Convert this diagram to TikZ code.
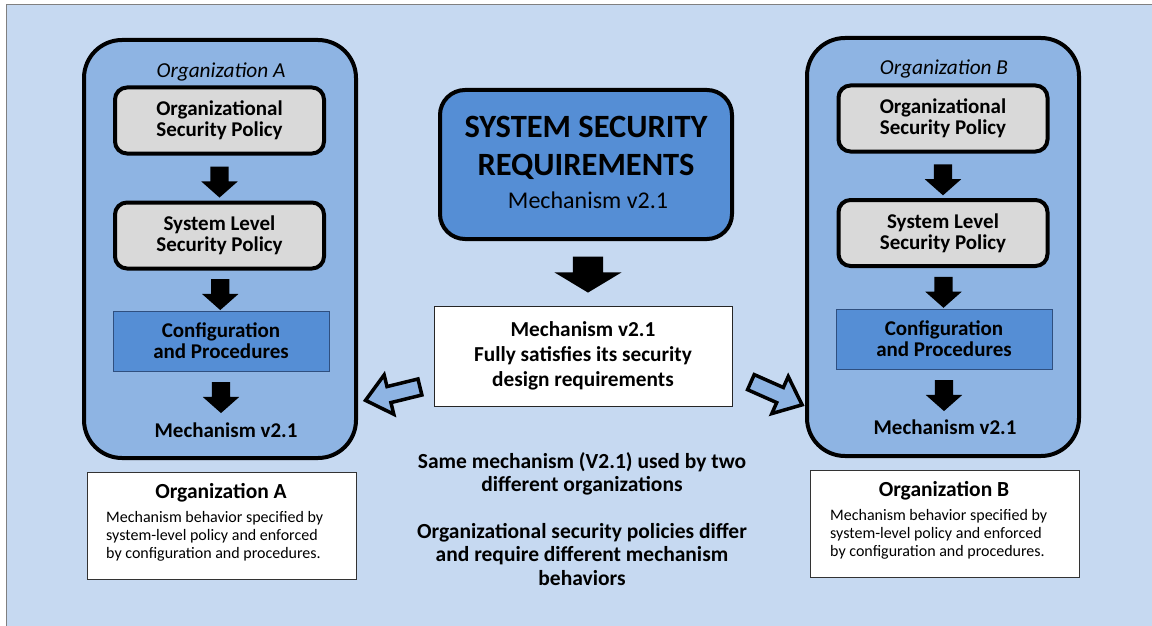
\documentclass[tikz,border=0pt]{standalone}
\usepackage{fontspec}
\setmainfont{Carlito}
\usetikzlibrary{shapes.arrows,calc}

\definecolor{panelblue}{HTML}{C6D9F1}
\definecolor{panelrule}{HTML}{808080}
\definecolor{orgfill}{HTML}{8EB4E3}
\definecolor{stepblue}{HTML}{558ED5}
\definecolor{policygray}{HTML}{D9D9D9}
\definecolor{cfgrule}{HTML}{2F4F7F}

\begin{document}
\begin{tikzpicture}[x=1pt,y=-1pt,
  orgframe/.style={draw=black, line width=4pt, fill=orgfill, rounded corners=38pt,
    minimum width=272pt, minimum height=418pt, inner sep=0pt},
  policybox/.style={draw=black, line width=4pt, fill=policygray, rounded corners=12pt,
    minimum width=209pt, minimum height=66pt, inner sep=0pt, align=center,
    font=\bfseries\fontsize{21}{21}\selectfont},
  cfgbox/.style={draw=cfgrule, line width=1pt, fill=stepblue,
    minimum width=216pt, minimum height=60pt, inner sep=0pt, align=center,
    font=\bfseries\fontsize{21}{21}\selectfont},
  orgtitle/.style={font=\itshape\fontsize{21.3}{22}\selectfont, inner sep=0pt},
  mechlabel/.style={font=\bfseries\fontsize{21}{22}\selectfont, inner sep=0pt},
  flowarrow/.style={single arrow, fill=black, draw=none, inner xsep=0pt, inner ysep=9pt,
    single arrow head extend=9pt, single arrow tip angle=97,
    minimum height=31pt, rotate=-90},
  hollowarrow/.style={single arrow, fill=orgfill, draw=black, line width=3.5pt,
    inner xsep=0pt, inner ysep=6.5pt, single arrow head extend=12pt,
    single arrow tip angle=80, minimum height=56pt},
  notebox/.style={draw=black!80, line width=1pt, fill=white, inner sep=0pt,
    minimum width=269pt, minimum height=107pt},
  notehead/.style={font=\bfseries\fontsize{21.5}{22}\selectfont, inner sep=0pt},
  notebody/.style={font=\fontsize{16}{18}\selectfont, inner sep=0pt, align=left, anchor=north west},
]
\useasboundingbox (0,0) rectangle (1152,626);
\fill[white] (0,0) rectangle (1152,626);
% backdrop panel
\draw[draw=panelrule, fill=panelblue, line width=1pt] (6,5) rectangle (1170,640);

% ---------------- Organization A column ----------------
\node[orgframe] (orgA) at (220,249) {};
\node[orgtitle] (orgAtitle) at (221,72) {Organization A};
\node[policybox] (osA) at (219.5,120.5) {Organizational\\Security Policy};
\node[policybox] (slA) at (219.5,235.5) {System Level\\Security Policy};
\node[cfgbox] (cfA) at (221,341) {Configuration\\and Procedures};
\node[mechlabel] (mechA) at (226,430) {Mechanism v2.1};
\node[flowarrow] (aA1) at ($(osA.south)!0.5!(slA.north)$) {};
\node[flowarrow] (aA2) at ($(slA.south)!0.5!(cfA.north)$) {};
\node[flowarrow] (aA3) at (221,393.5) {};

% ---------------- Organization B column ----------------
\node[orgframe] (orgB) at (943,247) {};
\node[orgtitle] (orgBtitle) at (944,69) {Organization B};
\node[policybox] (osB) at (943,118.5) {Organizational\\Security Policy};
\node[policybox] (slB) at (943,233) {System Level\\Security Policy};
\node[cfgbox] (cfB) at (944,339) {Configuration\\and Procedures};
\node[mechlabel] (mechB) at (945,427) {Mechanism v2.1};
\node[flowarrow] (aB1) at ($(osB.south)!0.5!(slB.north)$) {};
\node[flowarrow] (aB2) at ($(slB.south)!0.5!(cfB.north)$) {};
\node[flowarrow] (aB3) at (944,391.5) {};

% ---------------- central requirement ----------------
\node[draw=black, line width=4pt, fill=stepblue, rounded corners=25pt,
  minimum width=292pt, minimum height=149pt, inner sep=0pt] (req) at (586,164.5) {};
\node[font=\bfseries\fontsize{32.5}{38}\selectfont, align=center, inner sep=0pt]
  (reqtitle) at (586,148) {SYSTEM SECURITY\\REQUIREMENTS};
\node[font=\fontsize{24}{24}\selectfont, inner sep=0pt] (reqsub) at (588,200) {Mechanism v2.1};
\node[single arrow, fill=black, draw=none, inner xsep=0pt, inner ysep=15pt,
  single arrow head extend=18.5pt, single arrow tip angle=118, minimum height=36pt,
  rotate=-90] (reqarrow) at (588,270) {};

\node[draw=black!85, line width=1pt, fill=white, minimum width=298pt, minimum height=100pt,
  inner sep=0pt, align=center, font=\bfseries\fontsize{21.3}{25}\selectfont]
  (mech) at (583,356) {Mechanism v2.1\\Fully satisfies its security\\design requirements};

\node[hollowarrow, rotate=193.8] (toA) at (397.5,392.5) {};
\node[hollowarrow, rotate=-23.9] (toB) at (772,391.5) {};

% ---------------- commentary ----------------
\node[align=center, inner sep=0pt, font=\bfseries\fontsize{21.5}{23.5}\selectfont]
  (summary) at (582,519) {Same mechanism (V2.1) used by two\\different organizations\\[23pt]
  Organizational security policies differ\\and require different mechanism\\behaviors};

\node[notebox] (noteA) at (221.5,525.5) {};
\node[notehead] (noteAhead) at (221,493) {Organization A};
\node[notebody] (noteAbody) at (106,511) {Mechanism behavior specified by\\system-level policy and enforced\\by configuration and procedures.};

\node[notebox] (noteB) at (944.5,523.5) {};
\node[notehead] (noteBhead) at (944,491) {Organization B};
\node[notebody] (noteBbody) at (830,509) {Mechanism behavior specified by\\system-level policy and enforced\\by configuration and procedures.};
\end{tikzpicture}
\end{document}
